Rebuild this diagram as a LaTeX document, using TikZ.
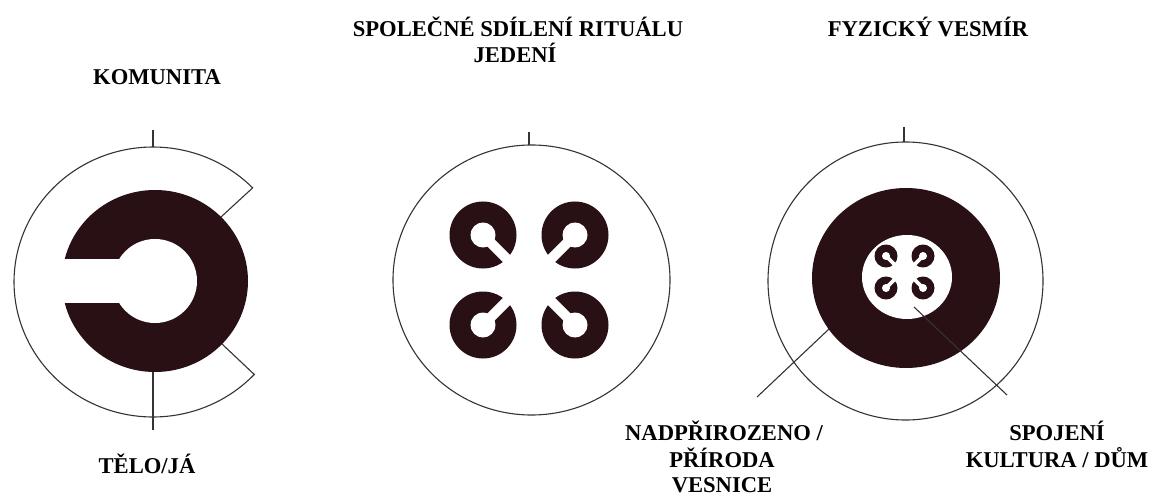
\documentclass[tikz,border=0pt]{standalone}
\usepackage{fontspec}
\setmainfont{Liberation Serif}
\newfontfamily\lblfont{Liberation Serif}[BoldFont={Liberation Serif Bold}]
\definecolor{ink}{RGB}{40,16,20}
\definecolor{linec}{RGB}{55,50,52}
\tikzset{
  pics/cring/.style n args={3}{code={
    \fill[ink] (0,0) circle[radius=#1];
    \fill[white] (0,0) circle[radius=#2];
    \fill[white] (0,-#3) rectangle (#1+2,#3);
  }},
  lbl/.style={font=\lblfont\bfseries\fontsize{22.6}{26}\selectfont, anchor=base, inner sep=0pt},
  wire/.style={draw=linec, line width=1.1pt},
}
\begin{document}
\begin{tikzpicture}[x=1pt,y=-1pt]
\useasboundingbox[fill=white] (0,0) rectangle (1159,497);

% ---------- Figure 1 ----------
\coordinate (c1) at (153,282);
\coordinate (d1) at (155,281);
\coordinate (t1a) at (153,130);
\coordinate (t1b) at (153,147);
\coordinate (a1) at (252.3,188.2);
\coordinate (a2) at (253.9,374.1);
\coordinate (b1) at (221,217);
\coordinate (b2) at (222,344);
\coordinate (bt1) at (153,372);
\coordinate (bt2) at (153,430);
\draw[wire] plot[domain=44:317, samples=120, variable=\t] ({153+139*cos(\t)}, {282-135*sin(\t)});
\draw[wire] (a1) -- (b1);
\draw[wire] (a2) -- (b2);
\draw[wire] (t1a) -- (t1b);
\fill[ink] (d1) ellipse[x radius=93pt, y radius=91pt];
\fill[white] (d1) circle[radius=42pt];
\fill[white] (50,259) rectangle (155,303);
\draw[wire] (bt1) -- (bt2);

% ---------- Figure 2 ----------
\coordinate (c2) at (531.5,280);
\coordinate (t2a) at (529,132);
\coordinate (t2b) at (529,145);
\draw[wire] (c2) ellipse[x radius=138.5pt, y radius=135pt];
\draw[wire] (t2a) -- (t2b);
\pic[rotate=-45] at (483,235) {cring={33.5}{12.5}{5}};
\pic[rotate=-135] at (575,235) {cring={33.5}{12.5}{5}};
\pic[rotate=45] at (483,325) {cring={33.5}{12.5}{5}};
\pic[rotate=135] at (575,325) {cring={33.5}{12.5}{5}};

% ---------- Figure 3 ----------
\coordinate (c3) at (905.5,281);
\coordinate (d3) at (906,278);
\coordinate (w3) at (907,277);
\coordinate (t3a) at (904,127);
\coordinate (t3b) at (904,142);
\coordinate (n0) at (829,329);
\coordinate (n1) at (757,397);
\coordinate (s0) at (914,307);
\coordinate (s1) at (1007,395);
\draw[wire] (c3) ellipse[x radius=137.5pt, y radius=139pt];
\draw[wire] (t3a) -- (t3b);
\draw[wire] (n0) -- (n1);
\fill[ink] (d3) ellipse[x radius=94pt, y radius=90pt];
\fill[white] (w3) ellipse[x radius=45pt, y radius=42pt];
\pic[rotate=-45] at (886,256) {cring={11.5}{4}{1.8}};
\pic[rotate=-135] at (923,256) {cring={11.5}{4}{1.8}};
\pic[rotate=45] at (886,288) {cring={11.5}{4}{1.8}};
\pic[rotate=135] at (923,288) {cring={11.5}{4}{1.8}};
\draw[wire] (s0) -- (s1);

% ---------- Labels ----------
\node[lbl] (komunita) at (157,85) {KOMUNITA};
\node[lbl] (spol) at (518,37) {SPOLEČNÉ SDÍLENÍ RITUÁLU};
\node[lbl] (jedeni) at (515,63) {JEDENÍ};
\node[lbl] (fyz) at (928,37) {FYZICKÝ VESMÍR};
\node[lbl] (telo) at (147,473) {TĚLO/JÁ};
\node[lbl] (nad) at (724,440) {NADPŘIROZENO /};
\node[lbl] (prir) at (722,467) {PŘÍRODA};
\node[lbl] (vesn) at (722,492) {VESNICE};
\node[lbl] (spoj) at (1057,440) {SPOJENÍ};
\node[lbl] (kult) at (1057,467) {KULTURA / DŮM};
\end{tikzpicture}
\end{document}
